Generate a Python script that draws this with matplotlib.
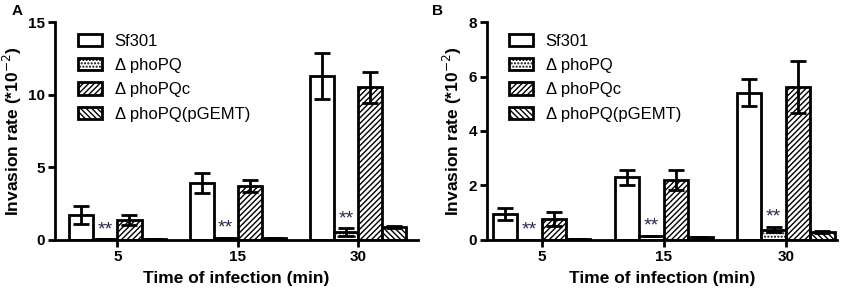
import matplotlib
matplotlib.use("Agg")
import matplotlib.pyplot as plt
import numpy as np

plt.rcParams['font.family'] = ['Liberation Sans', 'DejaVu Sans']
plt.rcParams['hatch.linewidth'] = 1.0

categories = ["5", "15", "30"]
series = ["Sf301", "\u0394 phoPQ", "\u0394 phoPQc", "\u0394 phoPQ(pGEMT)"]

# Panel A
a_sf301 = [1.7, 3.9, 11.3]
a_sf301_err = [0.6, 0.7, 1.6]
a_phopq = [0.05, 0.15, 0.55]
a_phopq_err = [0.0, 0.0, 0.25]
a_phopqc = [1.35, 3.7, 10.5]
a_phopqc_err = [0.35, 0.4, 1.05]
a_pgemt = [0.03, 0.12, 0.9]
a_pgemt_err = [0.0, 0.0, 0.08]

# Panel B
b_sf301 = [0.95, 2.3, 5.4]
b_sf301_err = [0.22, 0.27, 0.5]
b_phopq = [0.01, 0.16, 0.38]
b_phopq_err = [0.0, 0.0, 0.1]
b_phopqc = [0.77, 2.2, 5.62]
b_phopqc_err = [0.27, 0.37, 0.95]
b_pgemt = [0.02, 0.12, 0.3]
b_pgemt_err = [0.0, 0.0, 0.03]

hatches = [None, '.....', '//////', '\\\\\\\\\\\\']

fig = plt.figure(figsize=(8.51, 2.94), dpi=100)
axA = fig.add_axes([0.0646, 0.184, 0.4265, 0.741])
axB = fig.add_axes([0.572, 0.184, 0.4115, 0.741])

def draw(ax, vals, errs, ymax, yticks, xlim, legx):
    x = np.arange(len(categories))
    w = 0.2
    offs = [-1.5, -0.5, 0.5, 1.5]
    for i, (v, e) in enumerate(zip(vals, errs)):
        ax.bar(x + offs[i] * w, v, w, color='white', edgecolor='black',
               linewidth=2, hatch=hatches[i], label=series[i], zorder=2)
        ax.errorbar(x + offs[i] * w, v, yerr=e, fmt='none', ecolor='black',
                    elinewidth=2, capsize=6, capthick=2, zorder=3)
    # significance stars above phoPQ bars
    for j in range(len(categories)):
        top = vals[1][j] + errs[1][j]
        ax.text(x[j] + offs[1] * w, top + ymax * 0.005, "**", ha='center',
                va='bottom', fontsize=14, color='#2a2a50')
    ax.set_ylim(0, ymax)
    ax.set_yticks(yticks)
    ax.set_xlim(*xlim)
    ax.set_xticks(x)
    ax.set_xticklabels(categories)
    for s in ['top', 'right']:
        ax.spines[s].set_visible(False)
    for s in ['left', 'bottom']:
        ax.spines[s].set_linewidth(2)
    ax.tick_params(width=2, length=5, labelsize=11, pad=2)
    for lab in ax.get_xticklabels() + ax.get_yticklabels():
        lab.set_fontweight('bold')
    ax.set_ylabel("Invasion rate (*10$^{-2}$)", fontsize=12.5, fontweight='bold', labelpad=3)
    ax.set_xlabel("Time of infection (min)", fontsize=12.5, fontweight='bold', labelpad=5)
    ax.legend(loc='upper left', bbox_to_anchor=(legx, 0.945), frameon=False,
              fontsize=12, handlelength=1.45, handleheight=0.75,
              labelspacing=0.55, handletextpad=0.75, borderpad=0, borderaxespad=0)

draw(axA, [a_sf301, a_phopq, a_phopqc, a_pgemt],
     [a_sf301_err, a_phopq_err, a_phopqc_err, a_pgemt_err], 15, [0, 5, 10, 15], (-0.52, 2.5), 0.063)
draw(axB, [b_sf301, b_phopq, b_phopqc, b_pgemt],
     [b_sf301_err, b_phopq_err, b_phopqc_err, b_pgemt_err], 8, [0, 2, 4, 6, 8], (-0.45, 2.42), 0.063)

fig.text(0.014, 0.95, "A", fontsize=11, fontweight='bold')
fig.text(0.508, 0.95, "B", fontsize=11, fontweight='bold')

fig.savefig("out.png", dpi=100)
